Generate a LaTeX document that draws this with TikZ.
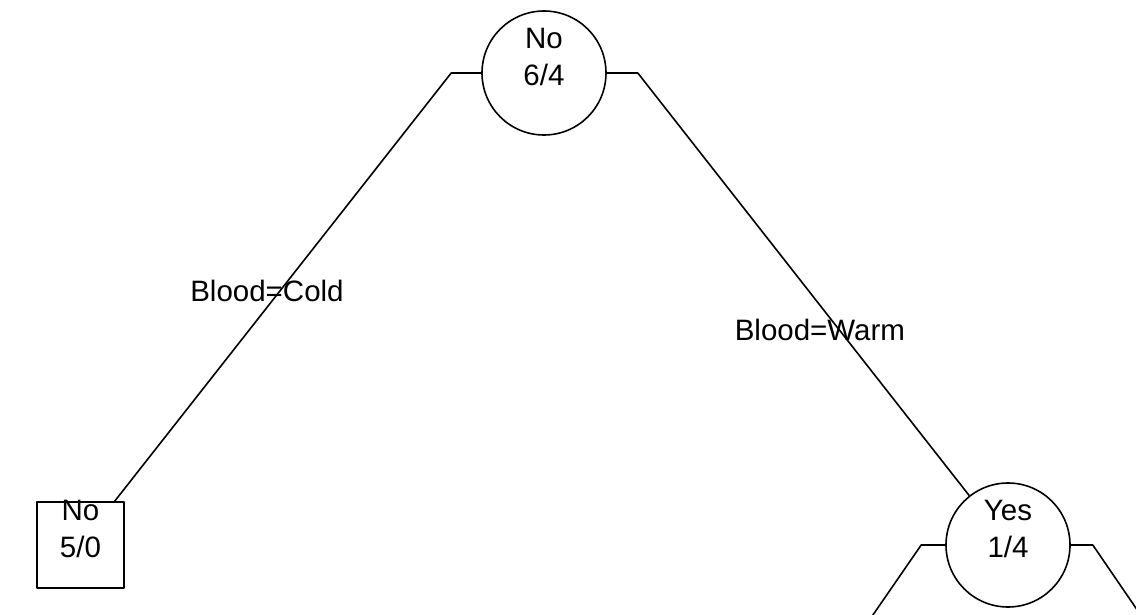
\documentclass[tikz,border=0pt]{standalone}
\usepackage{fontspec}
\setmainfont{Liberation Sans}
\usetikzlibrary{positioning,calc}

\begin{document}
\begin{tikzpicture}[x=1pt, y=-1pt, line join=round, line width=1.6pt,
  split/.style={draw, circle, minimum size=124pt, inner sep=0pt},
  leaf/.style={draw, rectangle, minimum width=87pt, minimum height=86pt, inner sep=0pt},
  count/.style={anchor=north, inner sep=0pt, align=center, font=\fontsize{29.5}{37}\selectfont},
  cond/.style={anchor=base west, inner sep=0pt, font=\fontsize{29.5}{35}\selectfont}]
\clip (0,0) rectangle (1136,615);
\node[split] (root) at (544,73) {};
\node[leaf]  (cold) at (80.5,545) {};
\node[split] (warm) at (1008,545) {};
\node[count] at ([yshift=46pt]root.center) {No\\6/4};
\node[count] at ([yshift=46pt]cold.center) {No\\5/0};
\node[count] at ([yshift=46pt]warm.center) {Yes\\1/4};
\coordinate (root-l) at ([xshift=-30pt]root.west);
\coordinate (root-r) at ([xshift=31pt]root.east);
\coordinate (warm-l) at ([xshift=-24pt]warm.west);
\coordinate (warm-r) at ([xshift=22pt]warm.east);
\coordinate (warm-ll) at (866,625);
\coordinate (warm-rr) at (1147.5,625);
\draw (root.west)--(root-l)--(cold);
\draw (root.east)--(root-r)--(warm);
\draw (warm.west)--(warm-l)--(warm-ll);
\draw (warm.east)--(warm-r)--(warm-rr);
\node[cond] (lab-cold) at (189.5,301) {Blood=Cold};
\node[cond] (lab-warm) at (734,340.5) {Blood=Warm};
\end{tikzpicture}
\end{document}
